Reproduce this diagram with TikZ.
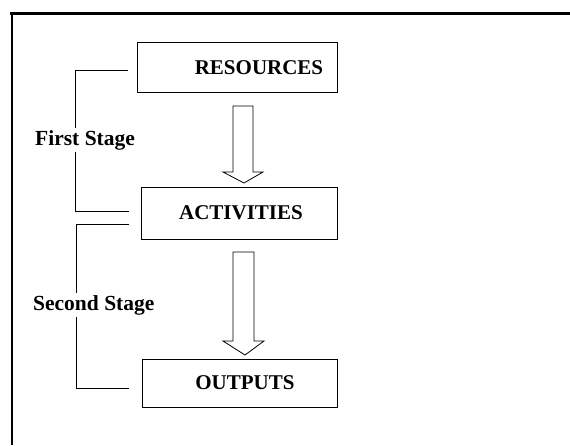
\documentclass[tikz,border=0pt]{standalone}
\usepackage{fontspec}
\setmainfont{Liberation Serif}
\usetikzlibrary{calc}
\begin{document}
\begin{tikzpicture}[x=1pt,y=-1pt,
  stagebox/.style={draw=black,line width=0.8pt,inner sep=0pt,
    font=\fontsize{21}{24}\selectfont\bfseries},
  stagelabel/.style={inner sep=2pt,anchor=base west,
    font=\fontsize{21.5}{24}\selectfont\bfseries},
  bracket/.style={draw=black,line width=0.7pt},
  hollow/.style={draw=black,line width=0.8pt,fill=white,line join=miter}]
\useasboundingbox (0,0) rectangle (570,445);
% frame
\draw[line width=3pt] (10,13) -- (570,13);
\draw[line width=2pt] (12,12) -- (12,445);
% boxes
\node[stagebox,minimum width=200,minimum height=50] (res) at (237,67.5) {\hspace*{44pt}RESOURCES};
\node[stagebox,minimum width=196,minimum height=52] (act) at (239,213) {\hspace*{4pt}ACTIVITIES};
\node[stagebox,minimum width=195,minimum height=48] (out) at (239.5,383) {\hspace*{11pt}OUTPUTS};
% labels
\node[stagelabel] (first) at (33,145) {First Stage};
\node[stagelabel] (second) at (31,310) {Second Stage};
% bracket corners
\coordinate (a1) at (75,70);
\coordinate (a2) at (75,211);
\coordinate (b1) at (76,224);
\coordinate (b2) at (76,388);
\draw[bracket] ($(res.west)+(-9,2.5)$) -- (a1) -- (a1 |- first.north);
\draw[bracket] (a2 |- first.south) -- (a2) -- ($(act.west)+(-12,-2)$);
\draw[bracket] ($(act.west)+(-12,11)$) -- (b1) -- (b1 |- second.north);
\draw[bracket] (b2 |- second.south) -- (b2) -- ($(out.west)+(-13,5)$);
% hollow arrows
\draw[hollow] (233,106) -- (253,106) -- (253,172) -- (263,172) -- (244,183)
  -- (223,172) -- (233,172) -- cycle;
\draw[hollow] (233,252) -- (254,252) -- (254,341) -- (264,341) -- (245,355)
  -- (223,341) -- (233,341) -- cycle;
\end{tikzpicture}
\end{document}
